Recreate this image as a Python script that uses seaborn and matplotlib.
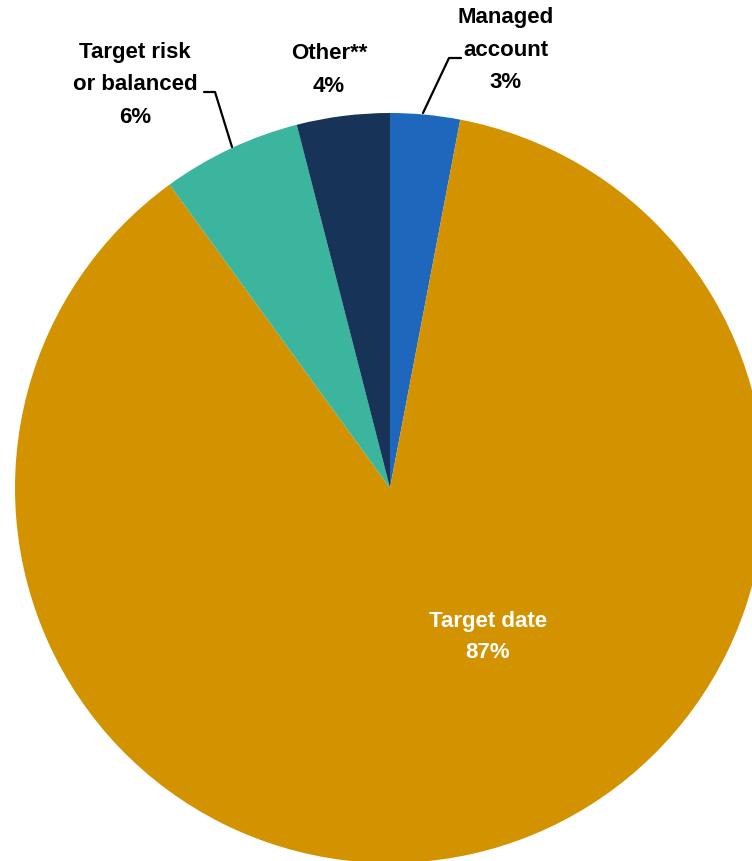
import matplotlib
matplotlib.use('Agg')
import matplotlib.pyplot as plt
import seaborn as sns

# ------------------- Data -------------------
categories = ['Managed\naccount', 'Target date', 'Target risk\nor balanced', 'Other**']
shares = [3, 87, 6, 4]
colors = ['#1F67BD', '#D39200', '#3BB59E', '#173358']

sns.set_style('white')
plt.rcParams['font.family'] = ['Liberation Sans', 'DejaVu Sans']

W, H = 752, 861
fig = plt.figure(figsize=(W / 100, H / 100), dpi=100)
ax = fig.add_axes([0, 0, 1, 1])

# pie centre and radius in pixel units (y measured from bottom)
cx, cy, r = 390, H - 488, 375
ax.pie(shares, colors=colors, startangle=90, counterclock=False,
       center=(cx, cy), radius=r, frame=True,
       wedgeprops=dict(linewidth=0))
ax.set_xlim(0, W)
ax.set_ylim(0, H)
ax.set_aspect('equal')
ax.axis('off')

labels = [f'{c}\n{s}%' for c, s in zip(categories, shares)]
font = dict(fontsize=16, fontweight='bold', ha='center', va='center')

ax.text(506, H - 50, labels[0], color='black', linespacing=1.74, **font)
ax.text(488, H - 637, labels[1], color='white', linespacing=1.63, **font)
ax.text(135, H - 85, labels[2], color='black', linespacing=1.74, **font)
ax.text(329, H - 70, labels[3], color='black', linespacing=1.74, **font)

# leader lines
ax.plot([423, 449, 461], [H - 113, H - 58, H - 58], color='black', lw=1.6)
ax.plot([232, 215, 204], [H - 147, H - 92, H - 92], color='black', lw=1.6)

fig.savefig('out.png', dpi=100)
